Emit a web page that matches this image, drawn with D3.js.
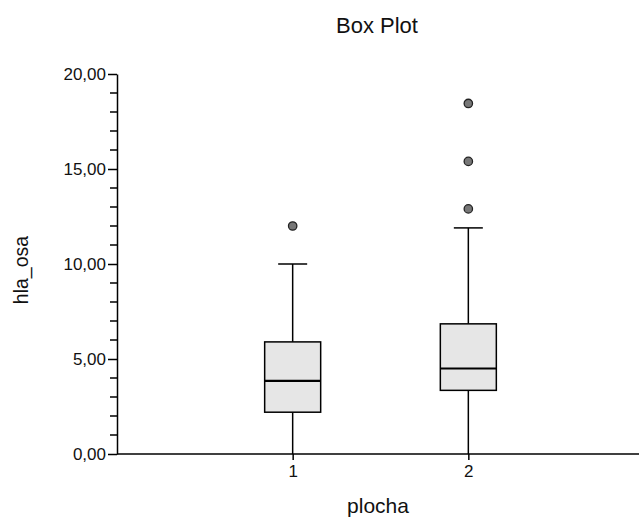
<!DOCTYPE html>
<html>
<head>
<meta charset="utf-8">
<script src="https://cdn.jsdelivr.net/npm/d3@7"></script>
<style>
  body { margin: 0; background: #fff; }
  svg text { font-family: "Liberation Sans", Arial, sans-serif; fill: #111; }
</style>
</head>
<body>
<div class="chart"></div>
<script>
// data
const groups = ['1', '2'];
const q1 = [2.2, 3.35];
const median = [3.85, 4.5];
const q3 = [5.9, 6.85];
const whiskerLow = [0, 0];
const whiskerHigh = [10.0, 11.9];
const outliers = [[12.0], [12.9, 15.4, 18.45]];
const yTicks = [0, 5, 10, 15, 20];

const width = 639, height = 517;
const margin = { top: 74, right: -5, bottom: 63, left: 117 };

const svg = d3.select('.chart').append('svg')
    .attr('width', width)
    .attr('height', height);

const x = d3.scalePoint()
    .domain(groups)
    .range([margin.left, width - margin.right])
    .padding(1);

const y = d3.scaleLinear()
    .domain([0, 20])
    .range([height - margin.bottom, margin.top]);

const fmt = d => d3.format('.2f')(d).replace('.', ',');

// axe y, petites graduations tous les 1
const yAxis = svg.append('g')
    .attr('transform', `translate(${margin.left},0)`)
    .call(d3.axisLeft(y).tickValues(yTicks).tickFormat(fmt).tickSize(9).tickPadding(2).tickSizeOuter(0));
yAxis.select('.domain').attr('stroke', '#000').attr('stroke-width', 1.5);
yAxis.selectAll('.tick line').attr('stroke', '#000').attr('stroke-width', 1.5);
yAxis.selectAll('text').attr('font-size', 17).attr('dy', '0.35em');

svg.append('g')
    .selectAll('line')
    .data(d3.range(0, 21).filter(v => v % 5 !== 0))
    .enter()
    .append('line')
    .attr('x1', margin.left - 7)
    .attr('x2', margin.left + 1)
    .attr('y1', d => y(d))
    .attr('y2', d => y(d))
    .attr('stroke', '#000')
    .attr('stroke-width', 1.5);

// axe x
const xAxis = svg.append('g')
    .attr('transform', `translate(0,${y(0)})`)
    .call(d3.axisBottom(x).tickSize(6).tickSizeOuter(0));
xAxis.select('.domain').attr('stroke', '#000').attr('stroke-width', 1.5)
    .attr('d', `M${margin.left},0H${width}`);
xAxis.selectAll('.tick line').attr('stroke', '#000').attr('stroke-width', 1.5);
xAxis.selectAll('text').attr('font-size', 17).attr('dy', '0.85em');

// boîtes
const boxW = 56;
const capW = 29;
const box = svg.append('g')
    .selectAll('g')
    .data(groups.map((g, i) => ({
        g, q1: q1[i], med: median[i], q3: q3[i],
        lo: whiskerLow[i], hi: whiskerHigh[i], out: outliers[i]
    })))
    .enter()
    .append('g');

box.append('line')
    .attr('x1', d => x(d.g)).attr('x2', d => x(d.g))
    .attr('y1', d => y(d.lo)).attr('y2', d => y(d.q1))
    .attr('stroke', '#000').attr('stroke-width', 1.5);
box.append('line')
    .attr('x1', d => x(d.g)).attr('x2', d => x(d.g))
    .attr('y1', d => y(d.q3)).attr('y2', d => y(d.hi))
    .attr('stroke', '#000').attr('stroke-width', 1.5);
box.append('line')
    .attr('x1', d => x(d.g) - capW / 2).attr('x2', d => x(d.g) + capW / 2)
    .attr('y1', d => y(d.hi)).attr('y2', d => y(d.hi))
    .attr('stroke', '#000').attr('stroke-width', 1.5);
box.append('rect')
    .attr('x', d => x(d.g) - boxW / 2)
    .attr('y', d => y(d.q3))
    .attr('width', boxW)
    .attr('height', d => y(d.q1) - y(d.q3))
    .attr('fill', '#e6e6e6')
    .attr('stroke', '#000')
    .attr('stroke-width', 1.5);
box.append('line')
    .attr('x1', d => x(d.g) - boxW / 2).attr('x2', d => x(d.g) + boxW / 2)
    .attr('y1', d => y(d.med)).attr('y2', d => y(d.med))
    .attr('stroke', '#000').attr('stroke-width', 2.2);
box.selectAll('circle')
    .data(d => d.out.map(v => ({ g: d.g, v })))
    .enter()
    .append('circle')
    .attr('cx', d => x(d.g))
    .attr('cy', d => y(d.v))
    .attr('r', 4.2)
    .attr('fill', '#777')
    .attr('stroke', '#222')
    .attr('stroke-width', 1.3);

// titres
svg.append('text')
    .attr('x', 377).attr('y', 33)
    .attr('text-anchor', 'middle')
    .attr('font-size', 22)
    .text('Box Plot');
svg.append('text')
    .attr('x', 378).attr('y', 513)
    .attr('text-anchor', 'middle')
    .attr('font-size', 21)
    .text('plocha');
svg.append('text')
    .attr('transform', 'translate(28,270) rotate(-90)')
    .attr('text-anchor', 'middle')
    .attr('font-size', 19.5)
    .text('hla_osa');
</script>
</body>
</html>
